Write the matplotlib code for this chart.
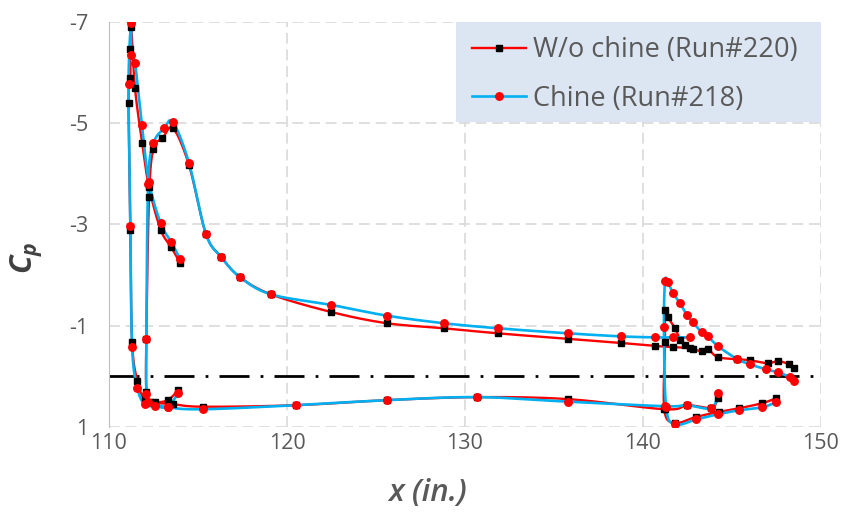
import numpy as np
import matplotlib
matplotlib.use('Agg')
import matplotlib.pyplot as plt
from matplotlib.lines import Line2D
from matplotlib.patches import Rectangle

plt.rcParams['font.family'] = ['Open Sans', 'DejaVu Sans']
plt.rcParams['axes.unicode_minus'] = False
plt.rcParams['mathtext.fontset'] = 'custom'
plt.rcParams['mathtext.it'] = 'Open Sans:italic:bold'
plt.rcParams['mathtext.rm'] = 'Open Sans:bold'

# W/o chine (Run#220) -- each element goes lower TE -> LE -> upper TE
slat_x_220 = [113.9, 113.3, 112.6, 112.0, 111.6, 111.3, 111.2, 111.1, 111.2, 111.2, 111.25,
              111.46, 111.87, 112.25, 112.9, 113.5, 114.0]
slat_cp_220 = [0.27, 0.47, 0.51, 0.45, 0.10, -0.68, -2.9, -5.4, -5.9, -6.47, -6.9,
               -5.7, -4.6, -3.74, -2.9, -2.55, -2.24]
main_x_220 = [144.2, 143.85, 142.5, 141.24, 135.8, 130.7, 125.6, 120.5, 115.3, 113.6, 112.3, 112.1,
              112.1, 112.25, 112.5, 113.0, 113.6, 114.5, 115.45, 116.3, 117.36, 119.1, 122.5,
              125.6, 128.8, 131.85, 135.8, 138.76, 140.67, 141.7, 142.64]
main_cp_220 = [0.43, 0.62, 0.57, 0.65, 0.45, 0.41, 0.47, 0.57, 0.60, 0.55, 0.50, 0.30,
               -0.74, -3.54, -4.5, -4.7, -4.9, -4.17, -2.81, -2.36, -1.96, -1.62, -1.27,
               -1.05, -0.95, -0.85, -0.74, -0.66, -0.60, -0.58, -0.56]
flap_x_220 = [147.5, 146.7, 145.4, 144.3, 143.0, 141.8, 141.2, 141.24, 141.24, 141.4, 141.8,
              142.1, 142.36, 142.8, 143.3, 143.65, 144.2, 145.3, 146.0, 147.0, 147.6, 148.2, 148.5]
flap_cp_220 = [0.43, 0.53, 0.63, 0.70, 0.80, 0.92, 0.65, -0.68, -1.31, -1.17, -0.95,
               -0.72, -0.62, -0.54, -0.50, -0.54, -0.38, -0.34, -0.32, -0.26, -0.30, -0.24, -0.16]

# Chine (Run#218)
slat_x_218 = [113.9, 113.3, 112.6, 112.0, 111.6, 111.3, 111.2, 111.1, 111.24, 111.25,
              111.46, 111.85, 112.25, 112.9, 113.5, 114.0]
slat_cp_218 = [0.33, 0.60, 0.59, 0.55, 0.23, -0.58, -2.97, -5.77, -6.98, -6.35,
               -6.2, -4.96, -3.84, -3.03, -2.65, -2.32]
main_x_218 = [144.2, 143.85, 142.5, 141.24, 135.8, 130.7, 125.6, 120.5, 115.3, 113.3, 112.2, 112.1,
              112.1, 112.2, 112.5, 113.1, 113.6, 114.5, 115.45, 116.3, 117.36, 119.1, 122.5,
              125.6, 128.8, 131.85, 135.8, 138.76, 140.67, 141.69, 142.64]
main_cp_218 = [0.33, 0.63, 0.57, 0.59, 0.50, 0.41, 0.47, 0.57, 0.65, 0.61, 0.50, 0.35,
               -0.74, -3.8, -4.6, -4.9, -5.02, -4.21, -2.81, -2.36, -1.96, -1.62, -1.41,
               -1.20, -1.05, -0.95, -0.85, -0.79, -0.77, -0.77, -0.77]
flap_x_218 = [147.5, 146.7, 145.4, 144.2, 143.0, 141.8, 141.3, 141.18, 141.24, 141.4, 141.69,
              142.08, 142.47, 142.8, 143.3, 143.65, 144.2, 145.3, 146.0, 146.9, 147.6, 148.26, 148.48]
flap_cp_218 = [0.51, 0.61, 0.67, 0.75, 0.85, 0.95, 0.60, -0.97, -1.88, -1.86, -1.64,
               -1.45, -1.21, -1.07, -0.87, -0.79, -0.60, -0.34, -0.24, -0.14, -0.08, 0.02, 0.10]

x_ticks = [110, 120, 130, 140, 150]
cp_ticks = [-7, -5, -3, -1, 1]


def smooth(x, y, n=16):
    # Catmull-Rom style bezier through the points (like Excel's smoothed line)
    p = np.column_stack([x, y]).astype(float)
    p = np.vstack([p[0], p, p[-1]])
    t = np.linspace(0, 1, n)[:, None]
    out = []
    for i in range(1, len(p) - 2):
        p0, p1, p2, p3 = p[i - 1], p[i], p[i + 1], p[i + 2]
        c1 = p1 + (p2 - p0) / 6
        c2 = p2 - (p3 - p1) / 6
        out.append((1 - t) ** 3 * p1 + 3 * (1 - t) ** 2 * t * c1 + 3 * (1 - t) * t ** 2 * c2 + t ** 3 * p2)
    s = np.vstack(out)
    return s[:, 0], s[:, 1]


fig = plt.figure(figsize=(8.5, 5.19), dpi=100)
ax = fig.add_axes([0.1282, 0.1773, 0.8376, 0.7803])

run220 = [(slat_x_220, slat_cp_220), (main_x_220, main_cp_220), (flap_x_220, flap_cp_220)]
run218 = [(slat_x_218, slat_cp_218), (main_x_218, main_cp_218), (flap_x_218, flap_cp_218)]

ax.axhline(0, color='black', lw=2, linestyle=(0, (10.8, 4, 1, 4)), zorder=1.5)

for xs, cs in run220:
    sx, sy = smooth(xs, cs)
    ax.plot(sx, sy, color='#FF0000', lw=1.7, zorder=2)
for xs, cs in run218:
    sx, sy = smooth(xs, cs)
    ax.plot(sx, sy, color='#00B0F0', lw=1.9, zorder=3)
for xs, cs in run220:
    ax.plot(xs, cs, ls='none', marker='s', ms=4.6, mfc='black', mec='black', zorder=4)
for xs, cs in run218:
    ax.plot(xs, cs, ls='none', marker='o', ms=5.4, mfc='#FF0000', mec='#FF0000', zorder=5)

ax.set_xlim(110, 150)
ax.set_ylim(1, -7)
ax.set_xticks(x_ticks)
ax.set_yticks(cp_ticks)
ax.grid(True, color='#D9D9D9', lw=1.2, linestyle=(0, (6.5, 3.5)))
ax.set_axisbelow(True)
for s in ['top', 'right', 'bottom']:
    ax.spines[s].set_visible(False)
ax.spines['left'].set_color('#BFBFBF')
ax.tick_params(length=0, labelsize=15.5, labelcolor='#595959')
ax.tick_params(axis='y', pad=15)
ax.tick_params(axis='x', pad=4)

# legend background box
ax.add_patch(Rectangle((0.487, 0.753), 0.513, 0.247, transform=ax.transAxes,
                       facecolor='#DCE6F2', edgecolor='none', zorder=1, clip_on=False))
h1 = Line2D([], [], color='#FF0000', lw=1.7, marker='s', ms=4.6, mfc='black', mec='black')
h2 = Line2D([], [], color='#00B0F0', lw=1.9, marker='o', ms=5.4, mfc='#FF0000', mec='#FF0000')
leg = ax.legend([h1, h2], ['W/o chine (Run#220)', 'Chine (Run#218)'], loc='upper left',
                bbox_to_anchor=(0.5098, 0.965), fontsize=19.5, frameon=False,
                borderaxespad=0, borderpad=0, handlelength=2.0, handletextpad=0.25,
                labelspacing=0.76, numpoints=1, labelcolor='#595959')

fig.text(27 / 850, 1 - 258 / 519, r'$C_p$', rotation=90, ha='center', va='center',
         fontsize=22, color='#404040')
fig.text(428 / 850, 1 - 493 / 519, 'x (in.)', ha='center', va='center', fontsize=22.5,
         style='italic', fontweight='semibold', color='#595959')

fig.savefig('out.png', dpi=100)
